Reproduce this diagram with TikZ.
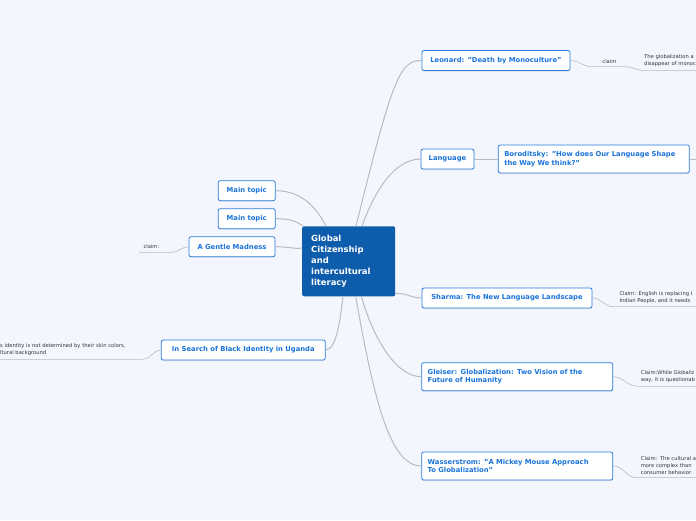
\documentclass[tikz,border=0pt]{standalone}
\usepackage{fontspec}
\setmainfont{DejaVu Sans}
\usetikzlibrary{shadows}
\definecolor{canvas}{HTML}{F3F6FD}
\definecolor{hubblue}{HTML}{0E5DAD}
\definecolor{topicblue}{HTML}{2A7DE1}
\definecolor{topictext}{HTML}{1B74DA}
\definecolor{branchgray}{HTML}{BBBBBB}
\definecolor{linegray}{HTML}{CACED6}
\definecolor{leaftext}{HTML}{333333}

\begin{document}
\begin{tikzpicture}[x=1pt, y=-1pt,
  hub/.style={fill=hubblue, text=white, rounded corners=2pt,
              minimum width=93pt, minimum height=70pt, text width=75pt,
              inner xsep=9pt, align=left,
              font=\fontsize{8.4}{11}\selectfont\bfseries},
  topic/.style={draw=topicblue, fill=white, line width=0.8pt, rounded corners=2pt,
                minimum height=20pt, text=topictext,
                font=\fontsize{6.8}{8.8}\selectfont\bfseries,
                drop shadow={shadow xshift=0pt, shadow yshift=-1pt, opacity=0.2}},
  wide/.style={topic, minimum height=28pt, text width=179pt, align=left, inner xsep=6pt},
  leaf/.style={text=leaftext, font=\fontsize{5.2}{6.9}\selectfont,
               align=left, inner xsep=4pt, inner ysep=3.3pt},
  branch/.style={draw=branchgray, line width=1pt},
  twig/.style={draw=branchgray, line width=0.6pt},
  underline/.style={draw=linegray, line width=0.9pt}
]
  \useasboundingbox (0,0) rectangle (696,520);
  \fill[canvas] (0,0) rectangle (696,520);
  \clip (0,0) rectangle (696,520);

  % central topic
  \node[hub] (hub) at (348.7,261.3) {Global\\Citizenship\\and\\intercultural\\literacy};

  % right side
  \node[topic, minimum width=148pt] (leonard)  at (496,60.5)    {Leonard: "Death by Monoculture"};
  \node[topic, minimum width=53pt]  (language) at (447.5,159)   {Language};
  \node[wide]                       (borod)    at (593.8,159)   {Boroditsky: "How does Our Language Shape\\the Way We think?"};
  \node[topic, minimum width=170pt] (sharma)   at (507,298)     {Sharma: The New Language Landscape};
  \node[wide]                       (gleiser)  at (517.2,376.7) {Gleiser: Globalization: Two Vision of the\\Future of Humanity};
  \node[wide]                       (wasser)   at (517.2,466)   {Wasserstrom: "A Mickey Mouse Approach\\To Globalization"};

  % left side
  \node[topic, minimum width=57pt]  (mainA)  at (246.7,190.7) {Main topic};
  \node[topic, minimum width=57pt]  (mainB)  at (246.7,218.7) {Main topic};
  \node[topic, minimum width=86pt]  (gentle) at (232,246.7)   {A Gentle Madness};
  \node[topic, minimum width=164pt] (uganda) at (243.3,350)   {In Search of Black Identity in Uganda};

  % claims
  \node[leaf, anchor=south west, text width=27pt, align=center] (claimA) at (591.7,66.7) {claim};
  \node[leaf, anchor=south west, text width=80pt] (globe) at (640,70) {The globalization a\\disappear of monoc};
  \node[leaf, anchor=south west, text width=80pt, inner xsep=6pt] (english) at (613.3,306.7) {Claim: English is replacing I\\Indian People, and it needs};
  \node[leaf, anchor=south west, text width=80pt] (balance) at (636.7,386) {Claim:While Globaliz\\way, it is questionab};
  \node[leaf, anchor=south west, text width=80pt] (cultural) at (636.7,477.7) {Claim: The cultural a\\more complex than\\consumer behavior.};
  \node[leaf, anchor=south east, text width=24pt] (claimB) at (171.7,252.3) {claim:};
  \node[leaf, anchor=south west, text width=140pt, inner xsep=3pt] (skin) at (-3,359) {s identity is not determined by their skin colors,\\ltural background};
  \coordinate (borodEnd) at (700,159);

  % branches
  \draw[branch] ([xshift=54pt]hub.north west) .. controls (393,76) and (400,60.5) .. (leonard.west);
  \draw[branch] ([xshift=60pt]hub.north west) .. controls (375,190) and (395,159) .. (language.west);
  \draw[branch] (mainA.east) .. controls (300,190.7) and (315,205) .. ([xshift=24pt]hub.north west);
  \draw[branch] (mainB.east) .. controls (290,218.7) and (296,221) .. ([xshift=1pt]hub.north west);
  \draw[branch] (gentle.east) .. controls (290,246.7) and (292,249) .. ([yshift=-22pt]hub.north west);
  \draw[branch] ([yshift=3pt]hub.south east) .. controls (408,293) and (410,298) .. (sharma.west);
  \draw[branch] (uganda.east) .. controls (336,350) and (340,322) .. ([xshift=41pt]hub.south west);
  \draw[branch] ([xshift=59.5pt]hub.south west) .. controls (372,335) and (395,376.7) .. (gleiser.west);
  \draw[branch] ([xshift=53.7pt]hub.south west) .. controls (374,400) and (390,466) .. (wasser.west);

  \draw[twig] (language.east) -- (borod.west);
  \draw[twig] (borod.east) -- (borodEnd);
  \draw[twig] (leonard.east) to[out=0,in=180] (claimA.south west);
  \draw[twig] (claimA.south east) to[out=0,in=180] (globe.south west);
  \draw[twig] (sharma.east) to[out=0,in=180] (english.south west);
  \draw[twig] (gleiser.east) to[out=0,in=180] (balance.south west);
  \draw[twig] (wasser.east) to[out=0,in=180] (cultural.south west);
  \draw[twig] (gentle.west) to[out=180,in=0] (claimB.south east);
  \draw[twig] (uganda.west) to[out=180,in=0] (skin.south east);
  \foreach \leafname in {claimA, globe, english, balance, cultural, claimB, skin}
    \draw[underline] (\leafname.south west) -- (\leafname.south east);
\end{tikzpicture}
\end{document}
